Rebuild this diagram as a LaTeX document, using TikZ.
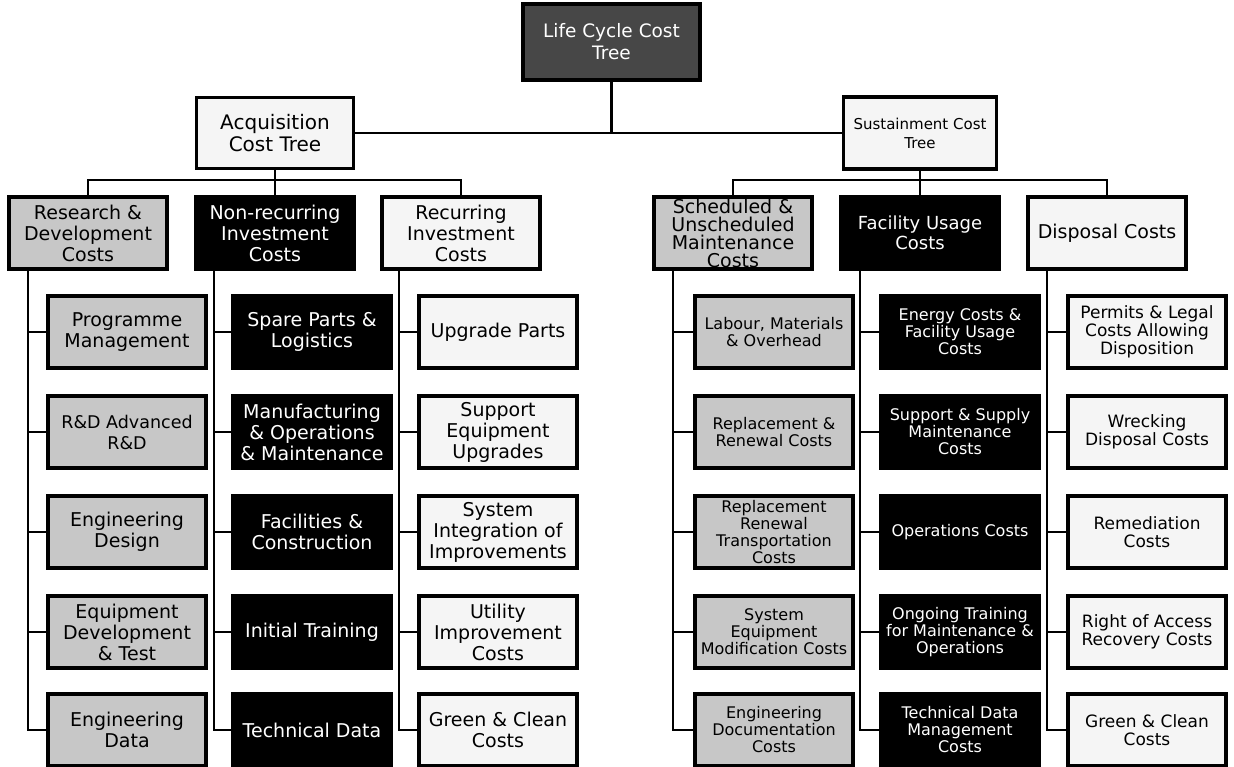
\documentclass[tikz,border=0pt]{standalone}
\usepackage{fontspec}
\setmainfont{DejaVu Sans}
\usetikzlibrary{backgrounds}
\begin{document}
\begin{tikzpicture}[x=1pt,y=-1pt,
  box/.style={draw=black, line width=3.5pt, minimum width=158pt, minimum height=72pt, inner sep=1pt, align=center},
  darkbox/.style={box, fill=black, text=white},
  greybox/.style={box, fill=black!22, text=black},
  litebox/.style={box, fill=black!4, text=black},
  rootbox/.style={box, fill=black!72, text=white, minimum width=177pt, minimum height=76pt},
  fl/.style={font=\fontsize{19}{21}\selectfont},
  fr/.style={font=\fontsize{16}{17}\selectfont},
  ff/.style={font=\fontsize{17}{18}\selectfont},
  link/.style={line width=2.5pt}
]
\useasboundingbox (0,0) rectangle (1234,767);
% top levels
\node[rootbox, font=\fontsize{18.5}{22}\selectfont] (root) at (611.5,42) {Life Cycle Cost\\Tree};
\node[litebox, minimum width=157pt, minimum height=71pt, font=\fontsize{20}{22}\selectfont] (acq) at (275,133) {Acquisition\\Cost Tree};
\node[litebox, minimum width=153pt, font=\fontsize{15}{19}\selectfont] (sus) at (920,133) {Sustainment Cost\\Tree};
% headers
\node[greybox, fl] (ra) at (88,233) {Research \&\\Development\\Costs};
\node[darkbox, fl] (rb) at (275,233) {Non-recurring\\Investment\\Costs};
\node[litebox, fl] (rc) at (461,233) {Recurring\\Investment\\Costs};
\node[greybox, font=\fontsize{19}{18}\selectfont] (rd) at (733,233) {Scheduled \&\\Unscheduled\\Maintenance\\Costs};
\node[darkbox, font=\fontsize{18}{20}\selectfont] (re) at (920,233) {Facility Usage\\Costs};
\node[litebox, font=\fontsize{19}{20}\selectfont] (rf) at (1107,233) {Disposal Costs};
% spine positions
\coordinate (sa) at (28,0);
\coordinate (sb) at (214,0);
\coordinate (sc) at (399,0);
\coordinate (sd) at (673,0);
\coordinate (se) at (860,0);
\coordinate (sf) at (1047,0);
% column A
\node[greybox, fl] (a1) at (127,332) {Programme\\Management};
\node[greybox, font=\fontsize{17.5}{21}\selectfont] (a2) at (127,432) {R\&D Advanced\\R\&D};
\node[greybox, fl] (a3) at (127,532) {Engineering\\Design};
\node[greybox, fl] (a4) at (127,632) {Equipment\\Development\\\& Test};
\node[greybox, fl] (a5) at (127,730) {Engineering\\Data};
% column B
\node[darkbox, fl] (b1) at (312,332) {Spare Parts \&\\Logistics};
\node[darkbox, fl] (b2) at (312,432) {Manufacturing\\\& Operations\\\& Maintenance};
\node[darkbox, fl] (b3) at (312,532) {Facilities \&\\Construction};
\node[darkbox, fl] (b4) at (312,632) {Initial Training};
\node[darkbox, fl] (b5) at (312,730) {Technical Data};
% column C
\node[litebox, fl] (c1) at (498,332) {Upgrade Parts};
\node[litebox, fl] (c2) at (498,432) {Support\\Equipment\\Upgrades};
\node[litebox, fl] (c3) at (498,532) {System\\Integration of\\Improvements};
\node[litebox, fl] (c4) at (498,632) {Utility\\Improvement\\Costs};
\node[litebox, fl] (c5) at (498,730) {Green \& Clean\\Costs};
% column D
\node[greybox, fr] (d1) at (774,332) {Labour, Materials\\\& Overhead};
\node[greybox, fr] (d2) at (774,432) {Replacement \&\\Renewal Costs};
\node[greybox, fr] (d3) at (774,532) {Replacement\\Renewal\\Transportation\\Costs};
\node[greybox, fr] (d4) at (774,632) {System\\Equipment\\Modification Costs};
\node[greybox, fr] (d5) at (774,730) {Engineering\\Documentation\\Costs};
% column E
\node[darkbox, fr] (e1) at (960,332) {Energy Costs \&\\Facility Usage\\Costs};
\node[darkbox, fr] (e2) at (960,432) {Support \& Supply\\Maintenance\\Costs};
\node[darkbox, fr] (e3) at (960,532) {Operations Costs};
\node[darkbox, fr] (e4) at (960,632) {Ongoing Training\\for Maintenance \&\\Operations};
\node[darkbox, fr] (e5) at (960,730) {Technical Data\\Management\\Costs};
% column F
\node[litebox, ff] (f1) at (1147,332) {Permits \& Legal\\Costs Allowing\\Disposition};
\node[litebox, ff] (f2) at (1147,432) {Wrecking\\Disposal Costs};
\node[litebox, ff] (f3) at (1147,532) {Remediation\\Costs};
\node[litebox, ff] (f4) at (1147,632) {Right of Access\\Recovery Costs};
\node[litebox, ff] (f5) at (1147,730) {Green \& Clean\\Costs};
% connectors
\begin{pgfonlayer}{background}
\draw[link] (root.south) -- (root.south |- acq.east);
\draw[link] (acq.east) -- (sus.west);
\draw[link] (acq.south) -- (rb.north);
\draw[link] (sus.south) -- (re.north);
\draw[link] (ra.north) -- ++(0,-15) -| (rc.north);
\draw[link] (rd.north) -- ++(0,-15) -| (rf.north);
\foreach \h/\s/\c in {ra/sa/a, rb/sb/b, rc/sc/c, rd/sd/d, re/se/e, rf/sf/f}{
  \draw[link] (\h.south -| \s) |- (\c5.west);
  \foreach \i in {1,...,4}{
    \draw[link] (\c\i.west -| \s) -- (\c\i.west);
  }
}
\end{pgfonlayer}
\end{tikzpicture}
\end{document}
